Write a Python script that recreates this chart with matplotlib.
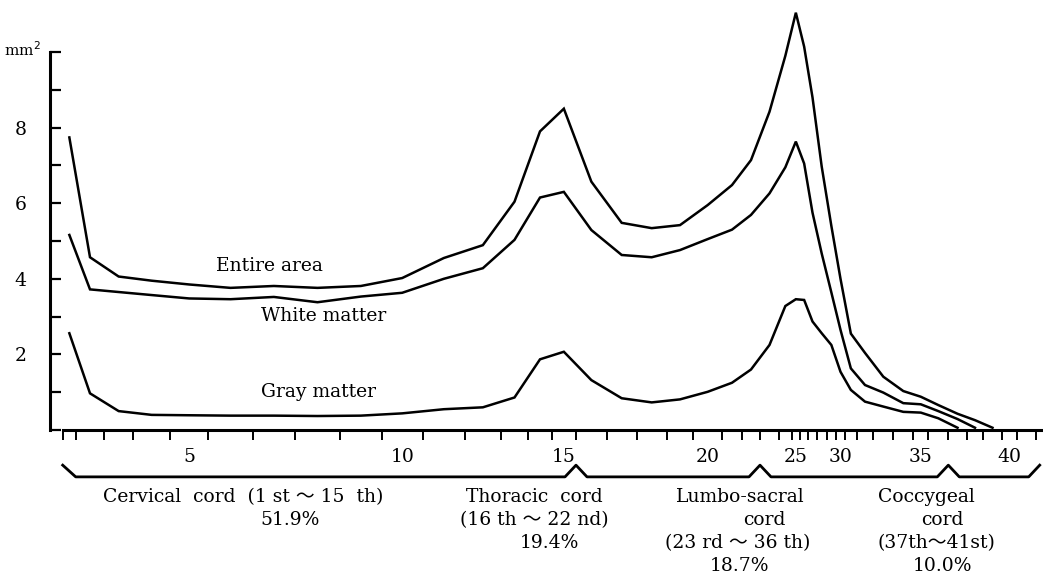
import numpy as np
import matplotlib
matplotlib.use("Agg")
import matplotlib.pyplot as plt

# relative length of each of the 41 spinal segments (sets x spacing)
segment_length = [13.3, 28.0, 29.3, 36.7, 38.3, 44.4, 42.3, 45.0, 41.7, 41.0,
                  42.3, 35.7, 27.6, 23.4, 24.3, 30.7, 30.0, 30.0, 26.6, 28.7,
                  20.0, 18.0, 19.0, 12.7, 8.3, 8.3, 8.4, 10.0, 9.3, 9.0,
                  11.7, 16.6, 20.0, 20.0, 15.0, 20.0, 18.4, 16.6, 18.4, 15.0, 19.0]
nan = np.nan
entire_area = [7.74, 4.57, 4.06, 3.95, 3.85, 3.76, 3.81, 3.76, 3.81, 4.02,
               4.55, 4.89, 6.04, 7.90, 8.50, 6.57, 5.48, 5.34, 5.42, 5.95,
               6.48, 7.14, 8.42, 9.90, 11.04, 10.14, 8.80, 6.97, 5.40, 4.00,
               2.55, 2.04, 1.41, 1.03, 0.88, 0.66, 0.43, 0.26, 0.06, nan, nan]
white_matter = [5.16, 3.72, 3.65, 3.57, 3.48, 3.46, 3.52, 3.38, 3.53, 3.63,
                4.00, 4.28, 5.03, 6.15, 6.30, 5.29, 4.63, 4.57, 4.76, 5.05,
                5.30, 5.69, 6.26, 6.95, 7.63, 7.05, 5.75, 4.67, 3.64, 2.65,
                1.63, 1.19, 0.99, 0.71, 0.68, 0.50, 0.29, 0.06, nan, nan, nan]
gray_matter = [2.56, 0.97, 0.50, 0.40, 0.39, 0.38, 0.38, 0.37, 0.38, 0.44,
               0.55, 0.60, 0.86, 1.87, 2.07, 1.32, 0.84, 0.73, 0.81, 1.01,
               1.25, 1.60, 2.25, 3.28, 3.46, 3.44, 2.87, 2.56, 2.25, 1.54,
               1.06, 0.75, 0.62, 0.48, 0.46, 0.31, 0.06, nan, nan, nan, nan]
series_labels = ["Entire area", "White matter", "Gray matter"]
x_labels = ["5", "10", "15", "20", "25", "30", "35", "40"]
x_label_segments = [5, 10, 15, 20, 25, 30, 35, 40]
y_labels = ["", "", "2", "", "4", "", "6", "", "8", "", ""]
region_last_segment = [15, 22, 36, 41]
region_text = [["Cervical  cord  (1 st ～ 15  th)", "51.9%"],
               ["Thoracic  cord", "(16 th ～ 22 nd)", "19.4%"],
               ["Lumbo-sacral", "cord", "(23 rd ～ 36 th)", "18.7%"],
               ["Coccygeal", "cord", "(37th～41st)", "10.0%"]]
# horizontal centre of each text line (same x units as segment_length)
region_text_x = [[180, 227],
                 [472, 472, 487],
                 [678, 702, 675, 677],
                 [864, 880, 874, 880]]

FONT = ["DejaVu Serif", "Noto Sans CJK JP"]
plt.rcParams["font.family"] = FONT

bounds = np.concatenate([[0.0], np.cumsum(segment_length)])
centers = (bounds[:-1] + bounds[1:]) / 2

fig = plt.figure(figsize=(10.43, 5.76), dpi=100)
W, H = 1043, 576
ax = fig.add_axes([50 / W, (H - 430) / H, (W - 50) / W, 430 / H])
ax.set_ylim(0, 430 / 37.8)
ax.set_xlim(-12.7, bounds[0] + (W - 62.7))

for vals in (entire_area, white_matter, gray_matter):
    ax.plot(centers, vals, color="black", lw=1.8, solid_joinstyle="miter")

FS = 13.5
# curve labels
ax.text(centers[6] - 4, 4.35, series_labels[0], fontsize=FS, ha="center", va="center")
ax.text(centers[7] + 6, 3.01, series_labels[1], fontsize=FS, ha="center", va="center")
ax.text(centers[7] + 1, 1.0, series_labels[2], fontsize=FS, ha="center", va="center")

# spines
for s in ("top", "right"):
    ax.spines[s].set_visible(False)
ax.spines["left"].set_linewidth(2.2)
ax.spines["bottom"].set_linewidth(2.2)
ax.spines["left"].set_bounds(0, 10)
ax.spines["bottom"].set_bounds(bounds[0], ax.get_xlim()[1])

# y ticks
ax.set_yticks(range(11))
ax.set_yticklabels(y_labels, fontsize=FS)
ax.tick_params(axis="y", direction="in", length=8, width=1.6, pad=17)
ax.text(-40, 10.05, "mm$^2$", fontsize=11, ha="center", va="center",
        transform=ax.transData, clip_on=False)

# x ticks at segment boundaries, labels at segment centres
ax.set_xticks(bounds)
ax.set_xticklabels([""] * len(bounds))
ax.tick_params(axis="x", which="major", direction="out", length=7, width=1.4)
ax.set_xticks([centers[i - 1] for i in x_label_segments], minor=True)
ax.set_xticklabels(x_labels, minor=True, fontsize=FS)
ax.tick_params(axis="x", which="minor", length=0, pad=13)

# region brace below the axis
yb, yp = -1.24, -0.93
px, py = [bounds[0], bounds[0] + 13], [yp, yb]
for last in region_last_segment[:-1]:
    xb = bounds[last]
    px += [xb - 11, xb, xb + 11]
    py += [yb, yp, yb]
xe = bounds[region_last_segment[-1]] + 4
px += [xe - 11, xe]
py += [yb, yp]
ax.plot(px, py, color="black", lw=2.0, clip_on=False)

# region texts
line_gap = 23 / 37.8
for lines, xs in zip(region_text, region_text_x):
    for j, (t, xo) in enumerate(zip(lines, xs)):
        ax.text(xo, -1.78 - j * line_gap, t, fontsize=FS, ha="center", va="center",
                clip_on=False)

fig.savefig("out.png", dpi=100)
